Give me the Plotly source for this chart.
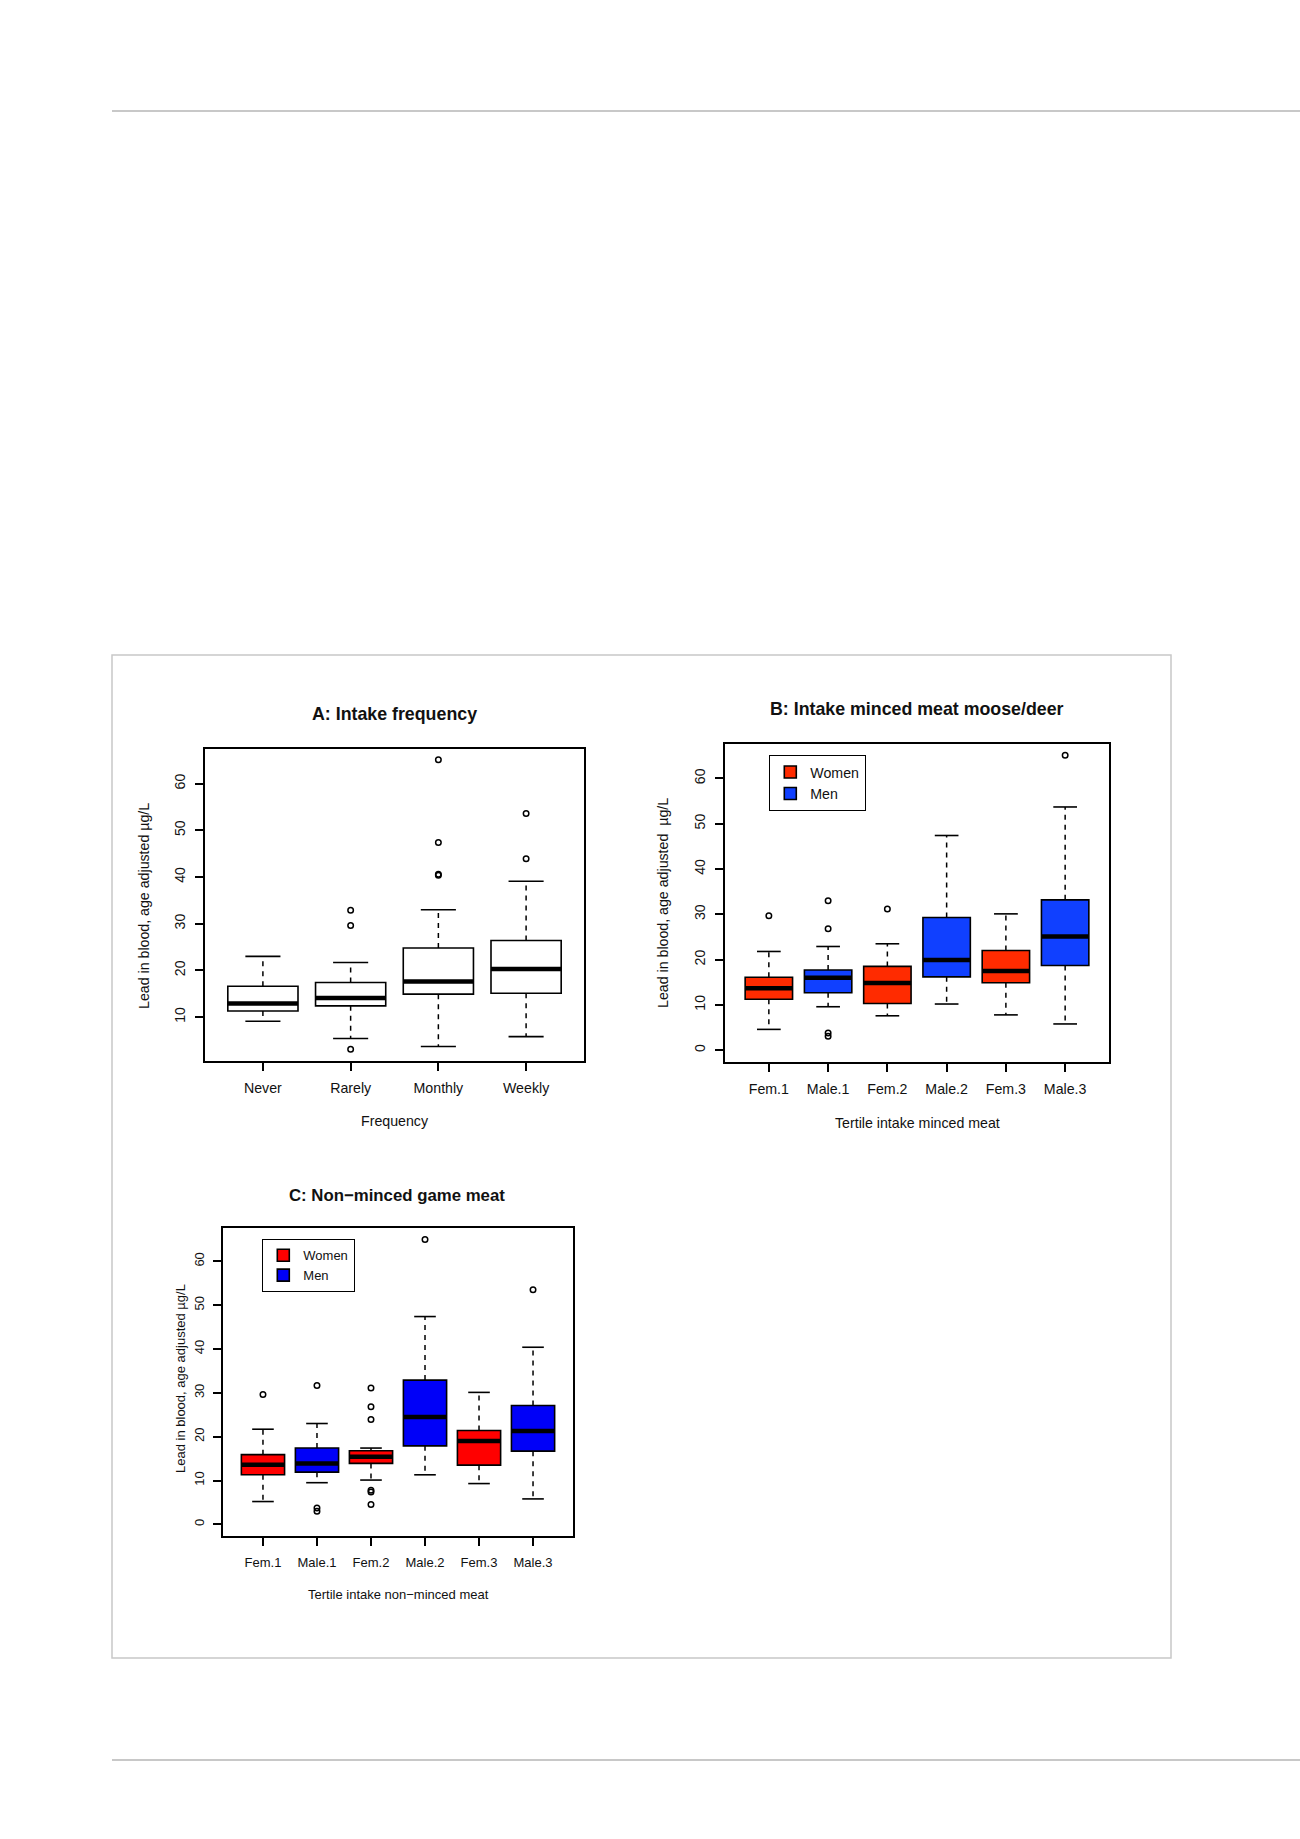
import plotly.graph_objects as go

W, H = 1300, 1839

# ---------------- Data ----------------
# Panel A: intake frequency
a_cats = ["Never", "Rarely", "Monthly", "Weekly"]
a_low = [9.1, 5.4, 3.7, 5.8]
a_q1 = [11.3, 12.4, 14.9, 15.1]
a_med = [12.9, 14.1, 17.6, 20.3]
a_q3 = [16.6, 17.4, 24.8, 26.4]
a_high = [23.0, 21.7, 33.0, 39.1]
a_out_cat = ["Rarely", "Rarely", "Rarely", "Monthly", "Monthly", "Monthly", "Monthly", "Weekly", "Weekly"]
a_out_val = [32.9, 29.6, 3.1, 65.1, 47.4, 40.4, 40.6, 53.6, 43.9]

# Panel B: tertile intake minced meat
b_cats = ["Fem.1", "Male.1", "Fem.2", "Male.2", "Fem.3", "Male.3"]
b_sex = ["Women", "Men", "Women", "Men", "Women", "Men"]
b_low = [4.6, 9.6, 7.6, 10.2, 7.8, 5.8]
b_q1 = [11.25, 12.7, 10.3, 16.2, 14.9, 18.7]
b_med = [13.7, 16.0, 14.85, 19.9, 17.5, 25.1]
b_q3 = [16.1, 17.7, 18.5, 29.3, 22.0, 33.2]
b_high = [21.8, 22.9, 23.5, 47.4, 30.1, 53.7]
b_out_cat = ["Fem.1", "Male.1", "Male.1", "Male.1", "Male.1", "Fem.2", "Male.3"]
b_out_val = [29.7, 33.0, 26.8, 3.8, 3.1, 31.2, 65.1]

# Panel C: tertile intake non-minced meat
c_cats = ["Fem.1", "Male.1", "Fem.2", "Male.2", "Fem.3", "Male.3"]
c_sex = ["Women", "Men", "Women", "Men", "Women", "Men"]
c_low = [5.2, 9.5, 10.1, 11.3, 9.3, 5.8]
c_q1 = [11.3, 11.9, 13.9, 17.9, 13.5, 16.7]
c_med = [13.6, 13.9, 15.4, 24.5, 19.0, 21.3]
c_q3 = [15.9, 17.4, 16.8, 32.9, 21.4, 27.1]
c_high = [21.7, 23.0, 17.4, 47.4, 30.1, 40.4]
c_out_cat = ["Fem.1", "Male.1", "Male.1", "Male.1", "Fem.2", "Fem.2", "Fem.2",
             "Fem.2", "Fem.2", "Fem.2", "Male.2", "Male.3"]
c_out_val = [29.6, 31.7, 3.7, 3.0, 31.1, 26.8, 23.9, 7.8, 7.4, 4.5, 65.0, 53.5]

y_ticks_a = [10, 20, 30, 40, 50, 60]
y_ticks_bc = [0, 10, 20, 30, 40, 50, 60]

# ---------------- Styling ----------------
FONT = "Liberation Sans, Arial, Helvetica, sans-serif"
BOXW = 0.8
STAPLE = 0.4
colors_b = {"Women": "#FF2B00", "Men": "#1040FF"}
colors_c = {"Women": "#FF0000", "Men": "#0000F8"}
FS_AB = 14.2
FS_C = 13


def px_x(x):
    return x / W


def px_y(y):
    return 1 - y / H


fig = go.Figure()


def add_panel(idx, cats, low, q1, med, q3, high, out_cat, out_val, sex=None, colors=None, legend=None):
    xa = "x" if idx == 1 else f"x{idx}"
    ya = "y" if idx == 1 else f"y{idx}"
    pos = {c: i + 1 for i, c in enumerate(cats)}
    seen = set()
    for i, c in enumerate(cats):
        if sex is None:
            fill = "white"
            name = c
            show = False
        else:
            fill = colors[sex[i]]
            name = sex[i]
            show = name not in seen
            seen.add(name)
        kw = {}
        if legend is not None:
            kw["legend"] = legend
        fig.add_trace(go.Box(
            x=[pos[c]], q1=[q1[i]], median=[med[i]], q3=[q3[i]],
            lowerfence=[q1[i]], upperfence=[q3[i]],
            width=BOXW, fillcolor=fill, line=dict(color="black", width=1.6),
            whiskerwidth=0, boxpoints=False, name=name, legendgroup=f"{idx}-{name}",
            showlegend=show, xaxis=xa, yaxis=ya, hoverinfo="skip", **kw))
    # whiskers (dashed), staples, thick medians
    wx, wy = [], []
    sx, sy = [], []
    mx, my = [], []
    for i, c in enumerate(cats):
        p = pos[c]
        wx += [p, p, None, p, p, None]
        wy += [q3[i], high[i], None, q1[i], low[i], None]
        sx += [p - STAPLE / 2, p + STAPLE / 2, None, p - STAPLE / 2, p + STAPLE / 2, None]
        sy += [high[i], high[i], None, low[i], low[i], None]
        mx += [p - BOXW / 2, p + BOXW / 2, None]
        my += [med[i], med[i], None]
    fig.add_trace(go.Scatter(x=wx, y=wy, mode="lines", line=dict(color="black", width=1.5, dash="5px,5px"),
                             showlegend=False, xaxis=xa, yaxis=ya, hoverinfo="skip"))
    fig.add_trace(go.Scatter(x=sx, y=sy, mode="lines", line=dict(color="black", width=1.6),
                             showlegend=False, xaxis=xa, yaxis=ya, hoverinfo="skip"))
    fig.add_trace(go.Scatter(x=mx, y=my, mode="lines", line=dict(color="black", width=4.5),
                             showlegend=False, xaxis=xa, yaxis=ya, hoverinfo="skip"))
    fig.add_trace(go.Scatter(x=[pos[c] for c in out_cat], y=out_val, mode="markers",
                             marker=dict(symbol="circle-open", size=5.5, color="black", line=dict(width=1.5)),
                             showlegend=False, xaxis=xa, yaxis=ya))


add_panel(1, a_cats, a_low, a_q1, a_med, a_q3, a_high, a_out_cat, a_out_val)
add_panel(2, b_cats, b_low, b_q1, b_med, b_q3, b_high, b_out_cat, b_out_val, b_sex, colors_b, "legend")
add_panel(3, c_cats, c_low, c_q1, c_med, c_q3, c_high, c_out_cat, c_out_val, c_sex, colors_c, "legend2")


def axis_common(size):
    return dict(showline=True, mirror=True, linecolor="black", linewidth=1.8,
                ticks="outside", ticklen=8, tickwidth=1.5, tickcolor="black",
                showgrid=False, zeroline=False, tickfont=dict(family=FONT, size=size, color="#111"),
                fixedrange=True)


# panel frames in page pixels
A = dict(x0=205, x1=584, y0=749, y1=1061)
B = dict(x0=725, x1=1109, y0=744, y1=1062)
C = dict(x0=223, x1=573, y0=1228, y1=1536)


def dom(P):
    return [px_x(P["x0"]), px_x(P["x1"])], [px_y(P["y1"]), px_y(P["y0"])]


ax, ay = dom(A)
bx, by = dom(B)
cx, cy = dom(C)

fig.update_layout(
    width=W, height=H, margin=dict(l=0, r=0, t=0, b=0),
    paper_bgcolor="white", plot_bgcolor="white",
    font=dict(family=FONT, color="#111"),
    xaxis=dict(domain=ax, range=[0.34, 4.66], tickvals=list(range(1, len(a_cats) + 1)), ticktext=a_cats,
               anchor="y", ticklabelstandoff=5, **axis_common(FS_AB)),
    yaxis=dict(domain=ay, range=[0.58, 67.43], tickvals=y_ticks_a, tickangle=-90, anchor="x",
               ticklabelstandoff=4, **axis_common(FS_AB)),
    xaxis2=dict(domain=bx, range=[0.26, 6.74], tickvals=list(range(1, len(b_cats) + 1)), ticktext=b_cats,
                anchor="y2", ticklabelstandoff=5, **axis_common(FS_AB)),
    yaxis2=dict(domain=by, range=[-2.6, 67.6], tickvals=y_ticks_bc, tickangle=-90, anchor="x2",
                ticklabelstandoff=4, **axis_common(FS_AB)),
    xaxis3=dict(domain=cx, range=[0.26, 6.74], tickvals=list(range(1, len(c_cats) + 1)), ticktext=c_cats,
                anchor="y3", ticklabelstandoff=5, **axis_common(FS_C)),
    yaxis3=dict(domain=cy, range=[-2.66, 67.6], tickvals=y_ticks_bc, tickangle=-90, anchor="x3",
                ticklabelstandoff=4, **axis_common(FS_C)),
    legend=dict(x=px_x(769), y=px_y(755), xanchor="left", yanchor="top", bgcolor="white",
                bordercolor="black", borderwidth=1.3, font=dict(family=FONT, size=FS_AB, color="#111"),
                tracegroupgap=0, traceorder="normal"),
    legend2=dict(x=px_x(262), y=px_y(1239), xanchor="left", yanchor="top", bgcolor="white",
                 bordercolor="black", borderwidth=1.3, font=dict(family=FONT, size=FS_C, color="#111"),
                 tracegroupgap=0, traceorder="normal"),
    boxmode="overlay",
    showlegend=True,
)

# page decorations: horizontal rules and figure frame
GRAY = "#c8c8c8"
fig.add_shape(type="line", xref="paper", yref="paper", x0=px_x(112), x1=1.0, y0=px_y(111), y1=px_y(111),
              line=dict(color=GRAY, width=2))
fig.add_shape(type="line", xref="paper", yref="paper", x0=px_x(112), x1=1.0, y0=px_y(1760), y1=px_y(1760),
              line=dict(color=GRAY, width=2))
fig.add_shape(type="rect", xref="paper", yref="paper", x0=px_x(112), x1=px_x(1171), y0=px_y(1658), y1=px_y(655),
              line=dict(color=GRAY, width=1.5))

# titles and axis titles
texts = [
    ("A: Intake frequency", 394.5, 714, 17.8, True, 0),
    ("B: Intake minced meat moose/deer", 917, 709, 17.8, True, 0),
    ("C: Non\u2212minced game meat", 397, 1195, 16.8, True, 0),
    ("Frequency", 394.5, 1121, FS_AB, False, 0),
    ("Tertile intake minced meat", 917, 1123, FS_AB, False, 0),
    ("Tertile intake non\u2212minced meat", 398, 1594, FS_C, False, 0),
    ("Lead in blood, age adjusted \u00b5g/L", 144, 906, FS_AB, False, -90),
    ("Lead in blood, age adjusted  \u00b5g/L", 663, 903, FS_AB, False, -90),
    ("Lead in blood, age adjusted \u00b5g/L", 180, 1379, FS_C, False, -90),
]
for t, x, y, s, bold, ang in texts:
    fig.add_annotation(text=f"<b>{t}</b>" if bold else t, xref="paper", yref="paper",
                       x=px_x(x), y=px_y(y), xanchor="center", yanchor="middle", showarrow=False,
                       textangle=ang, font=dict(family=FONT, size=s, color="#111"))

fig.write_html("out.html", config={"displayModeBar": False},
               post_script="document.body.style.margin='0';")
